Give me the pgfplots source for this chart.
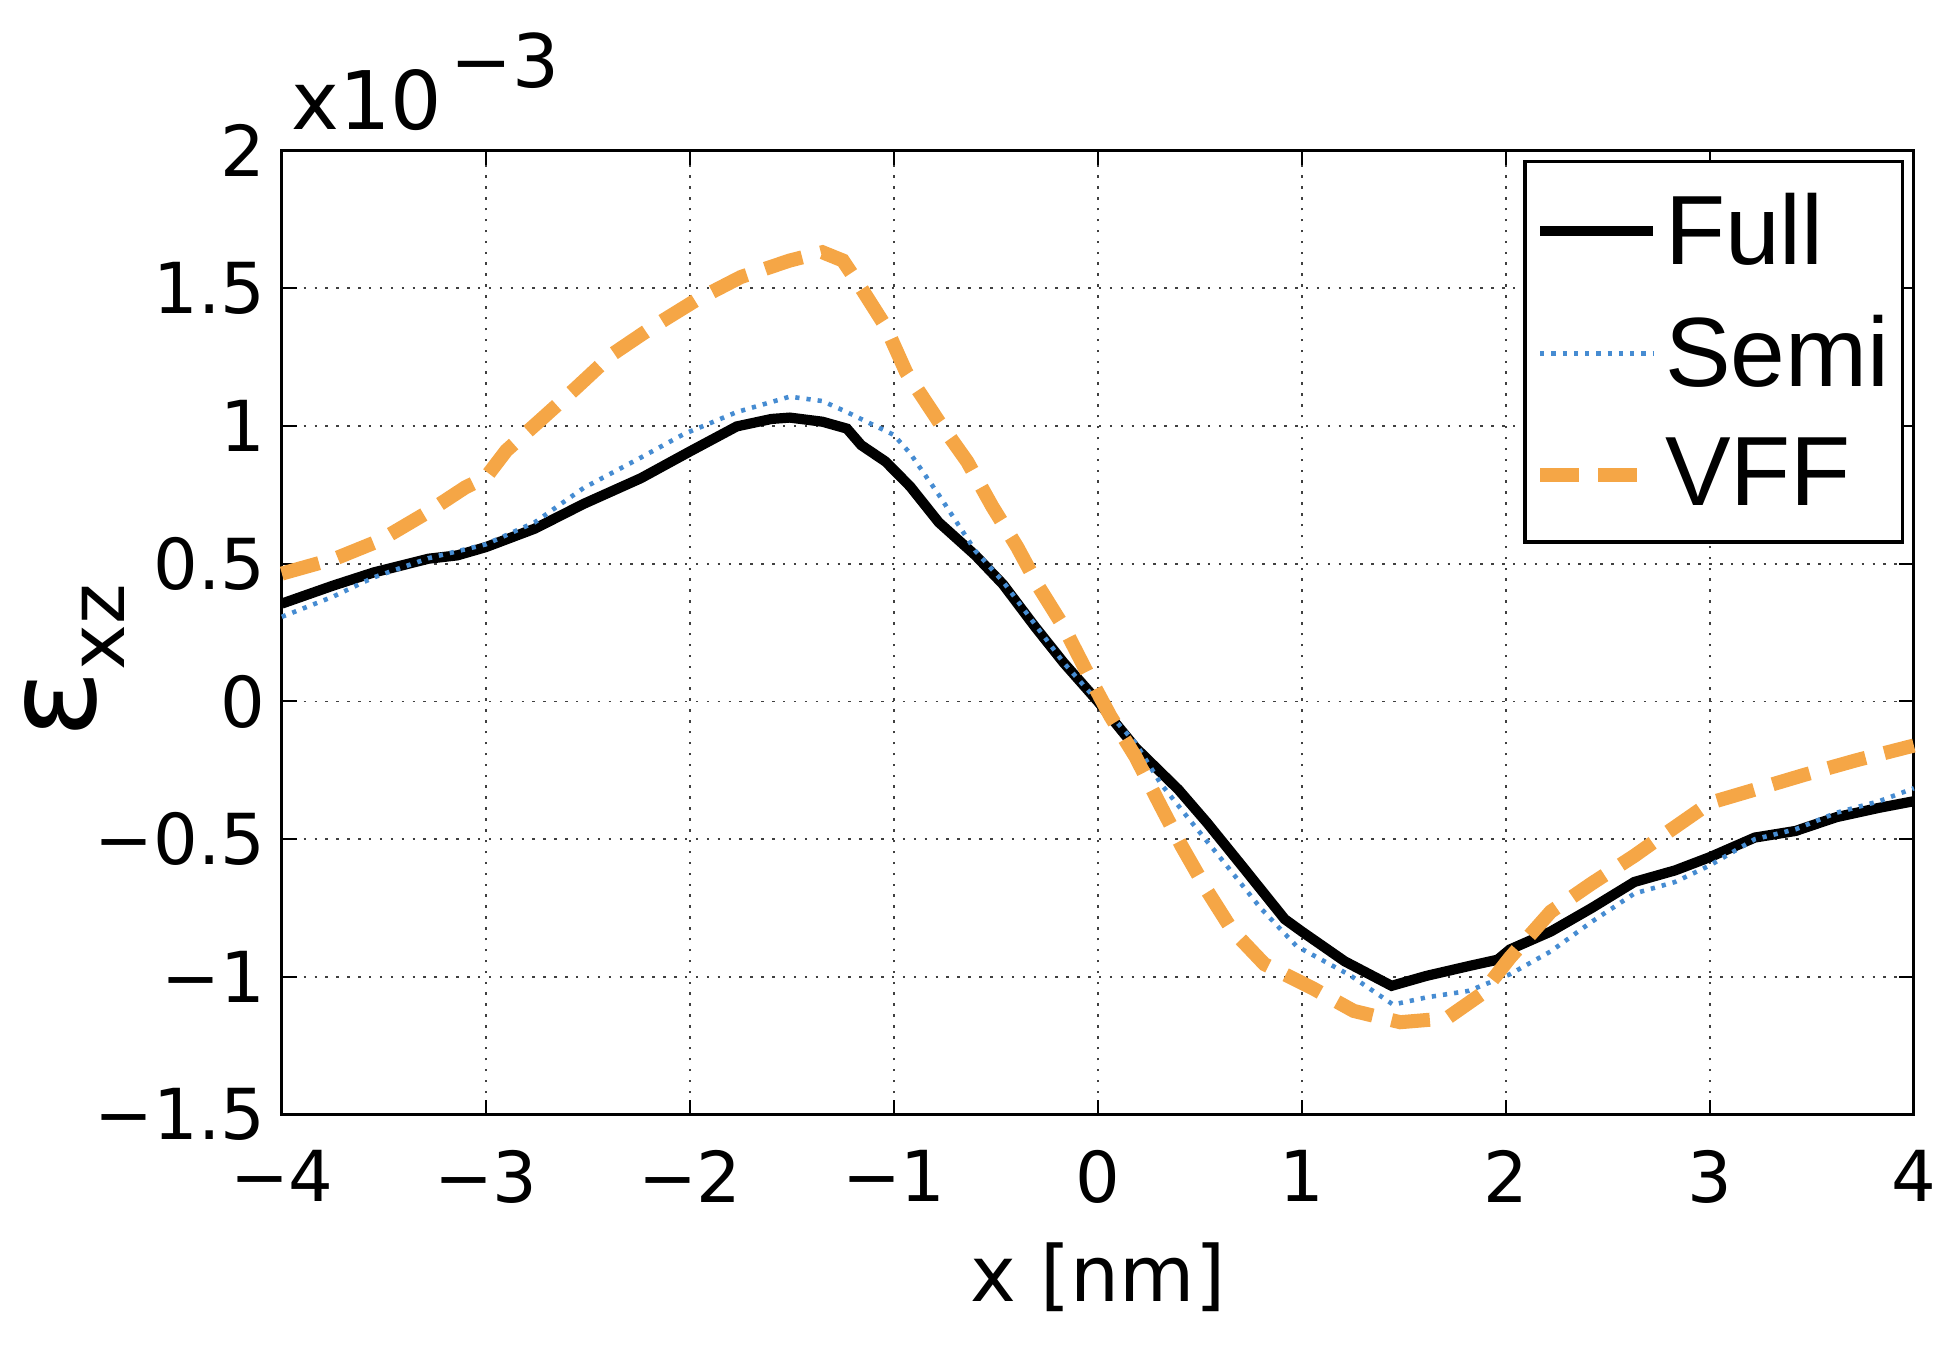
\documentclass[border=0pt]{standalone}
\usepackage{pgfplots}
\pgfplotsset{compat=1.18}
\usepackage{fontspec}
\setmainfont{Liberation Sans}
\newfontfamily\dejavu{DejaVu Sans}

\definecolor{semiblue}{RGB}{70,140,210}
\definecolor{vfforange}{RGB}{245,166,70}

\begin{document}
\begin{tikzpicture}
\begin{axis}[
    scale only axis,
    width=16.32cm, height=9.645cm,
    xmin=-4, xmax=4,
    ymin=-1.5, ymax=2,
    clip=false,
    axis line style={black, line width=0.8pt},
    xtick={-4,-3,-2,-1,0,1,2,3,4},
    xticklabels={−4,−3,−2,−1,0,1,2,3,4},
    ytick={-1.5,-1,-0.5,0,0.5,1,1.5,2},
    yticklabels={−1.5,−1,−0.5,0,0.5,1,1.5,2},
    tick align=inside,
    major tick length=0.15cm,
    tick style={black, line width=0.6pt},
    xticklabel style={font=\dejavu\fontsize{20}{24}\selectfont, anchor=north, inner sep=0pt, yshift=-0.35cm},
    yticklabel style={font=\dejavu\fontsize{20}{24}\selectfont, anchor=east, inner sep=0pt, xshift=-0.16cm},
    grid=major,
    major grid style={black!75, line width=0.5pt, dash pattern=on 0.7pt off 2.4pt},
    xlabel={x [nm]},
    every axis x label/.style={at={(axis description cs:0.5,-0.168)}, anchor=center, font=\dejavu\fontsize{22}{26}\selectfont},
    ylabel={{\fontsize{36}{40}\selectfont ε}\raisebox{-8pt}{\fontsize{22}{26}\selectfont xz}},
    every axis y label/.style={at={(axis description cs:-0.127,0.47)}, rotate=90, anchor=center, font=\dejavu},
    legend style={at={(axis description cs:0.9939,0.9896)}, anchor=north east,
        draw=black, line width=0.9pt, fill=white,
        font=\fontsize{28}{30}\selectfont,
        inner xsep=0.08cm, inner ysep=0.26cm, row sep=0.36cm,
        nodes={inner sep=0.05cm},
        /tikz/every even column/.style={column sep=0.02cm}},
    legend cell align=left,
    legend image code/.code={\draw[#1] (0cm,0cm) -- (1.13cm,0cm);},
]

% Full
\addplot[black, line width=2.9pt] coordinates {
(-4,0.355) (-3.75,0.42) (-3.55,0.468) (-3.28,0.518) (-3.14,0.53) (-3,0.56)
(-2.76,0.627) (-2.52,0.717) (-2.24,0.81) (-2,0.907) (-1.77,0.998) (-1.6,1.025)
(-1.51,1.03) (-1.35,1.015) (-1.23,0.99) (-1.16,0.93) (-1.04,0.87) (-0.92,0.78)
(-0.78,0.65) (-0.6,0.53) (-0.465,0.425) (-0.307,0.27) (-0.167,0.14) (0,0)
(0.184,-0.167) (0.395,-0.32) (0.535,-0.44) (0.71,-0.60) (0.916,-0.79) (1.0,-0.835)
(1.21,-0.943) (1.44,-1.032) (1.61,-0.996) (1.82,-0.96) (1.96,-0.937) (2.02,-0.90)
(2.22,-0.835) (2.42,-0.75) (2.63,-0.655) (2.83,-0.613) (3,-0.565) (3.22,-0.494)
(3.42,-0.47) (3.62,-0.42) (3.83,-0.386) (4,-0.362)
};
% Semi
\addplot[semiblue, line width=1.3pt, dash pattern=on 1.2pt off 2pt] coordinates {
(-4,0.307) (-3.75,0.38) (-3.55,0.45) (-3.28,0.52) (-3,0.57) (-2.76,0.65)
(-2.52,0.775) (-2.24,0.885) (-2.03,0.97) (-1.77,1.05) (-1.51,1.106) (-1.35,1.09)
(-1.23,1.05) (-1.0,0.967) (-0.92,0.9) (-0.78,0.75) (-0.6,0.546) (-0.465,0.435)
(-0.167,0.14) (0,0) (0.184,-0.15) (0.307,-0.297) (0.447,-0.427) (0.623,-0.588)
(0.798,-0.75) (0.974,-0.888) (1.237,-0.994) (1.447,-1.10) (1.61,-1.074) (1.82,-1.05)
(2.02,-0.99) (2.22,-0.907) (2.42,-0.80) (2.63,-0.697) (2.83,-0.655) (3.0,-0.595)
(3.22,-0.5) (3.42,-0.464) (3.62,-0.404) (3.83,-0.362) (4,-0.315)
};
% VFF
\addplot[vfforange, line width=4pt, dash pattern=on 11pt off 5.5pt] coordinates {
(-4,0.464) (-3.74,0.518) (-3.52,0.584) (-3.3,0.68) (-3.1,0.777) (-3,0.813)
(-2.9,0.91) (-2.74,1.016) (-2.56,1.136) (-2.38,1.26) (-2.18,1.36) (-1.97,1.456)
(-1.75,1.54) (-1.51,1.6) (-1.35,1.63) (-1.25,1.60) (-1.16,1.50) (-1.04,1.36)
(-0.94,1.195) (-0.78,1.016) (-0.64,0.87) (-0.518,0.708) (-0.395,0.56) (-0.29,0.416)
(-0.167,0.27) (-0.044,0.092) (0.061,-0.053) (0.184,-0.2) (0.307,-0.378) (0.41,-0.524)
(0.535,-0.686) (0.658,-0.83) (0.816,-0.953) (1.056,-1.042) (1.254,-1.123) (1.482,-1.164)
(1.71,-1.15) (1.88,-1.062) (2.02,-0.93) (2.22,-0.763) (2.42,-0.661) (2.63,-0.56)
(2.79,-0.476) (3.0,-0.368) (3.22,-0.32) (3.46,-0.267) (3.72,-0.213) (4,-0.16)
};

\legend{Full, Semi, VFF}

\node[anchor=base west, inner sep=0pt, font=\dejavu\fontsize{23}{27}\selectfont]
    at ([xshift=0.09cm, yshift=0.21cm]rel axis cs:0,1) {x10\hspace{0.08cm}\raisebox{12pt}{\fontsize{21}{25}\selectfont −3}};

\path (rel axis cs:-0.1727,-0.2377) rectangle (rel axis cs:1.0246,1.1558);
\end{axis}
\end{tikzpicture}
\end{document}
